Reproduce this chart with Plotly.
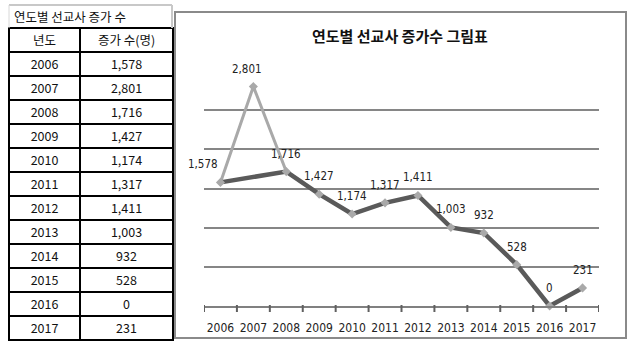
import plotly.graph_objects as go

years = [2006, 2007, 2008, 2009, 2010, 2011, 2012, 2013, 2014, 2015, 2016, 2017]
values = [1578, 2801, 1716, 1427, 1174, 1317, 1411, 1003, 932, 528, 0, 231]
# trend series skips the 2007 outlier
trend_values = [1578, None, 1716, 1427, 1174, 1317, 1411, 1003, 932, 528, 0, 231]

table_title = "연도별 선교사 증가 수"
table_headers = ["년도", "증가 수(명)"]
chart_title = "연도별 선교사 증가수 그림표"

W, H = 630, 344
KR = "Noto Sans CJK KR"
NARROW = "Liberation Sans Narrow, DejaVu Sans Condensed, Arial Narrow, sans-serif"

def px(x):
    return x / W

def py(y):
    return (H - y) / H

fig = go.Figure()

# chart lines
fig.add_trace(go.Scatter(
    x=years, y=values, mode="lines",
    line=dict(color="#a9a9a9", width=3),
    hoverinfo="skip", showlegend=False, cliponaxis=False,
))
fig.add_trace(go.Scatter(
    x=years, y=trend_values, mode="lines", connectgaps=True,
    line=dict(color="#5a5a5a", width=4.5),
    hoverinfo="skip", showlegend=False, cliponaxis=False,
))
fig.add_trace(go.Scatter(
    x=years, y=values, mode="markers",
    marker=dict(symbol="diamond", size=7, color="#a9a9a9"),
    hoverinfo="skip", showlegend=False, cliponaxis=False,
))

# table
fig.add_trace(go.Table(
    domain=dict(x=[px(9), px(173)], y=[py(341), py(28)]),
    columnwidth=[71, 93],
    header=dict(
        values=table_headers,
        height=24,
        line=dict(color="black", width=2),
        fill=dict(color="white"),
        align="center",
        font=dict(family=KR, size=12.5, color="#111"),
    ),
    cells=dict(
        values=[[str(y) for y in years], [f"{v:,}" for v in values]],
        height=24,
        line=dict(color="black", width=2),
        fill=dict(color="white"),
        align="center",
        font=dict(family=KR, size=12.5, color="#111"),
    ),
))

annotations = []
for i, (yr, v) in enumerate(zip(years, values)):
    annotations.append(dict(
        x=yr, y=v, xref="x", yref="y", text=f"{v:,}", showarrow=False,
        yshift=18, xshift=(-17 if i == 0 else (-6 if i == 1 else 0)),
        font=dict(family=NARROW, size=11.5, color="#222"),
    ))

annotations.append(dict(
    x=px(400), y=py(36), xref="paper", yref="paper", text=f"<b>{chart_title}</b>",
    showarrow=False, font=dict(family=KR, size=15, color="#111"),
    xanchor="center", yanchor="middle",
))
annotations.append(dict(
    x=px(12), y=py(17), xref="paper", yref="paper", text=table_title,
    showarrow=False, font=dict(family=KR, size=12.5, color="#111"),
    xanchor="left", yanchor="middle",
))

shapes = [
    # chart frame
    dict(type="rect", xref="paper", yref="paper",
         x0=px(175), x1=px(626), y0=py(338), y1=py(12),
         line=dict(color="#8a8a8a", width=2), layer="below"),
    # table title cell borders
    dict(type="line", xref="paper", yref="paper",
         x0=px(9), x1=px(172), y0=py(5), y1=py(5),
         line=dict(color="#c8c8c8", width=2)),
    dict(type="line", xref="paper", yref="paper",
         x0=px(172), x1=px(172), y0=py(5), y1=py(28),
         line=dict(color="#c8c8c8", width=2)),
    dict(type="line", xref="paper", yref="paper",
         x0=px(9), x1=px(9), y0=py(5), y1=py(28),
         line=dict(color="#d8d8d8", width=1)),
]

# tick marks between categories (on the x scale)
boundaries = [y - 0.5 for y in years] + [years[-1] + 0.5]
for b in boundaries:
    shapes.append(dict(
        type="line", xref="x", yref="paper", layer="above",
        x0=b, x1=b, y0=py(305), y1=py(312),
        line=dict(color="#606060", width=2),
    ))

fig.update_layout(
    width=W, height=H,
    margin=dict(l=0, r=0, t=0, b=0),
    paper_bgcolor="white", plot_bgcolor="white",
    showlegend=False,
    annotations=annotations,
    shapes=shapes,
    xaxis=dict(
        domain=[px(204), px(599)],
        type="linear",
        range=[years[0] - 0.5, years[-1] + 0.5],
        tickmode="array", tickvals=years, ticktext=[str(y) for y in years],
        ticks="outside", ticklen=10, tickwidth=1, tickcolor="rgba(255,255,255,0)",
        showline=True, linecolor="#808080", linewidth=2,
        showgrid=False, zeroline=False,
        tickfont=dict(family=NARROW, size=12, color="#222"),
        fixedrange=True,
    ),
    yaxis=dict(
        domain=[py(306), py(71)],
        range=[0, 3000], dtick=500, tick0=0,
        showgrid=True, gridcolor="#868686", gridwidth=2,
        showticklabels=False, zeroline=False, showline=False,
        fixedrange=True,
    ),
)

fig.write_html("out.html")
